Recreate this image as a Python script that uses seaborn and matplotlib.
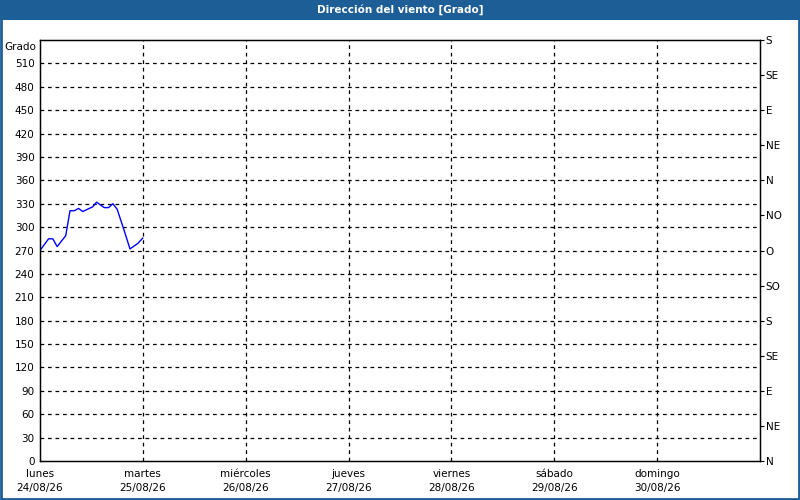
import numpy as np
import pandas as pd
import matplotlib
matplotlib.use("Agg")
import matplotlib.pyplot as plt
import seaborn as sns
from matplotlib.patches import Rectangle

# datos (horas desde el lunes 00:00, grados)
horas = [0, 2, 3, 4, 6, 7, 8, 9, 10, 11.5, 12.3, 13.2, 15, 16, 17, 18, 19.5, 21, 22.8, 24]
grados = [270, 285, 285, 275, 289, 321, 321, 324, 320, 324, 326, 332, 325, 325, 330, 323, 298, 272, 279, 286]

dias = ["lunes", "martes", "miércoles", "jueves", "viernes", "sábado", "domingo"]
fechas = ["24/08/26", "25/08/26", "26/08/26", "27/08/26", "28/08/26", "29/08/26", "30/08/26"]
rumbos = ["N", "NE", "E", "SE", "S", "SO", "O", "NO", "N", "NE", "E", "SE", "S"]

df = pd.DataFrame({"dia": np.array(horas) / 24.0, "grado": grados})

sns.set_style("white")
plt.rcParams["font.family"] = ["DejaVu Sans"]
plt.rcParams["font.size"] = 7.5
plt.rcParams["text.color"] = "black"
plt.rcParams["xtick.color"] = "black"
plt.rcParams["ytick.color"] = "black"

azul = "#1d5e97"
fig = plt.figure(figsize=(8, 5), dpi=100)
fig.patch.set_facecolor("white")

# barra de título y borde
fig.patches.append(Rectangle((0, 480 / 500), 1, 20 / 500, transform=fig.transFigure,
                             facecolor=azul, edgecolor="none", zorder=0))
fig.patches.append(Rectangle((0.001, 0.002), 0.998, 0.996, transform=fig.transFigure,
                             facecolor="none", edgecolor=azul, linewidth=2, zorder=5))
fig.text(0.5, 490 / 500, "Dirección del viento [Grado]", color="white", fontweight="bold",
         ha="center", va="center", fontsize=7.5)

ax = fig.add_axes([40 / 800, 39 / 500, 720 / 800, 421 / 500])
sns.lineplot(data=df, x="dia", y="grado", ax=ax, color="#0000ff", linewidth=1)

ax.set_xlim(0, 7)
ax.set_ylim(0, 540)
ax.set_xlabel("")
ax.set_ylabel("")

ax.set_yticks(np.arange(0, 540, 30))
ax.set_yticklabels([str(v) for v in range(0, 540, 30)])
ax.set_xticks(range(7))
ax.set_xticklabels([f"{d}\n{f}" for d, f in zip(dias, fechas)], linespacing=1.5)
ax.tick_params(axis="y", length=0, pad=4, labelcolor="black")
ax.tick_params(axis="x", length=3, direction="out", pad=3, labelcolor="black")
ax.text(-0.005, 0.995, "Grado", transform=ax.transAxes, ha="right", va="top",
        fontsize=7.5, color="black")

for v in range(30, 540, 30):
    ax.axhline(v, color="black", linestyle=(0, (3, 3)), linewidth=0.9, zorder=0)
for d in range(1, 7):
    ax.axvline(d, color="black", linestyle=(0, (3, 3)), linewidth=0.9, zorder=0)

for s in ax.spines.values():
    s.set_color("black")
    s.set_linewidth(1)

ax2 = ax.twinx()
ax2.set_ylim(0, 540)
ax2.set_yticks(np.arange(0, 541, 45))
ax2.set_yticklabels(rumbos)
ax2.tick_params(axis="y", length=3, direction="out", pad=1, right=True, labelcolor="black")
for s in ax2.spines.values():
    s.set_color("black")

fig.savefig("out.png", dpi=100)
